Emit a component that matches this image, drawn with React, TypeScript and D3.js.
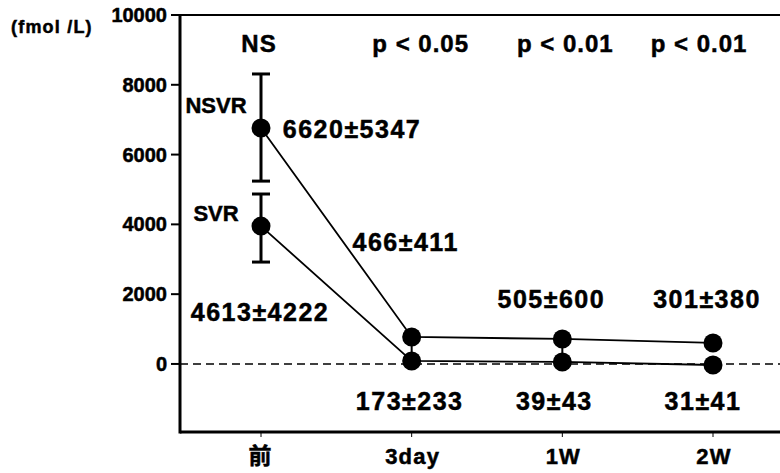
import React from 'react'
import * as d3 from 'd3'

// time points
const categories = ['前', '3day', '1W', '2W']

// NSVR group (upper line), fmol/L
const nsvrMean = [6760, 774, 716, 602]
const nsvrLow = [5240, 100, 60, null]
const nsvrHigh = [8310, null, null, null]
const nsvrLabels = ['6620±5347', '466±411', '505±600', '301±380']

// SVR group (lower line)
const svrMean = [3950, 86, 57, -30]
const svrLow = [2920, null, null, null]
const svrHigh = [4870, null, null, null]
const svrLabels = ['4613±4222', '173±233', '39±43', '31±41']

const pLabels = ['NS', 'p < 0.05', 'p < 0.01', 'p < 0.01']
const yTicks = [0, 2000, 4000, 6000, 8000, 10000]

const W = 780
const H = 473
const FONT = '"Liberation Sans", Arial, Helvetica, sans-serif'

// label offsets relative to the point they annotate
const nsvrLabelPos = [{ dx: 91, y: 138 }, { dx: -6, y: 251 }, { dx: -11, y: 308 }, { dx: -6, y: 308 }]
const svrLabelPos = [{ dx: -1, y: 321 }, { dx: -2, y: 410 }, { dx: -8, y: 410 }, { dx: -10, y: 410 }]
const pLabelDx = [-2, 9, 3, -14]

// thickens glyphs a little, like the scanned original
const heavy = { stroke: '#000', strokeWidth: 0.5 }

export default function App () {
  const x = d3.scaleLinear().domain([0, categories.length - 1]).range([261, 713])
  const y = d3.scaleLinear().domain([-1950, 10000]).range([432, 15])
  const left = 180
  const right = W

  const line = d3.line<number>()
    .x((d, i) => x(i))
    .y((d) => y(d))

  const errorBars = (mean: number[], low: (number | null)[], high: (number | null)[], key: string) =>
    mean.map((m, i) => {
      if (low[i] == null && high[i] == null) return null
      const lo = low[i] != null ? (low[i] as number) : m
      const hi = high[i] != null ? (high[i] as number) : m
      const capped = low[i] != null && high[i] != null
      return (
        <g key={key + i}>
          <line x1={x(i)} x2={x(i)} y1={y(lo)} y2={y(hi)} stroke='#000' strokeWidth={capped ? 3 : 2} />
          {capped && <line x1={x(i) - 9} x2={x(i) + 9} y1={y(lo)} y2={y(lo)} stroke='#000' strokeWidth={3} />}
          {capped && <line x1={x(i) - 9} x2={x(i) + 9} y1={y(hi)} y2={y(hi)} stroke='#000' strokeWidth={3} />}
        </g>
      )
    })

  return (
    <svg width={W} height={H} style={{ position: 'absolute', left: 0, top: 0, background: '#fff' }}
      fontFamily={FONT} fontWeight='bold'>
      {/* frame */}
      <line x1={left} x2={right} y1={y(10000)} y2={y(10000)} stroke='#000' strokeWidth={2} />
      <line x1={left} x2={right} y1={y(-1950)} y2={y(-1950)} stroke='#000' strokeWidth={3} />
      <line x1={left} x2={left} y1={y(10000) - 1} y2={y(-1950) + 1.5} stroke='#000' strokeWidth={3} />

      {/* zero reference */}
      <line x1={left} x2={right} y1={y(0)} y2={y(0)} stroke='#000' strokeWidth={1.5} strokeDasharray='8,5' />

      {/* y axis */}
      {yTicks.map((t) => (
        <g key={'yt' + t}>
          <line x1={left - 9} x2={left} y1={y(t)} y2={y(t)} stroke='#000' strokeWidth={2} />
          <text x={left - 13} y={y(t) + 7} textAnchor='end' fontSize={20} {...heavy}>{t}</text>
        </g>
      ))}
      <text x={11} y={33} fontSize={18} letterSpacing={1.2} {...heavy}>(fmol /L)</text>

      {/* x axis */}
      {categories.map((c, i) => (
        <g key={'xt' + i}>
          <line x1={x(i)} x2={x(i)} y1={y(-1950)} y2={y(-1950) + 5} stroke='#000' strokeWidth={1} />
          <text x={x(i) - (i === 0 ? 1 : -1)} y={464} textAnchor='middle'
            fontSize={i === 0 ? 23 : 22} letterSpacing={i === 0 ? 0 : 1.2} {...heavy}
            fontFamily={i === 0 ? '"Noto Sans CJK JP", sans-serif' : FONT}>{c}</text>
        </g>
      ))}

      {/* series */}
      <path d={line(nsvrMean) || ''} fill='none' stroke='#000' strokeWidth={1.8} />
      <path d={line(svrMean) || ''} fill='none' stroke='#000' strokeWidth={1.8} />
      {errorBars(nsvrMean, nsvrLow, nsvrHigh, 'en')}
      {errorBars(svrMean, svrLow, svrHigh, 'es')}
      {nsvrMean.map((v, i) => <circle key={'pn' + i} cx={x(i)} cy={y(v)} r={9.5} fill='#000' />)}
      {svrMean.map((v, i) => <circle key={'ps' + i} cx={x(i)} cy={y(v)} r={9.5} fill='#000' />)}

      {/* group names */}
      <text x={216} y={113} textAnchor='middle' fontSize={22} {...heavy}>NSVR</text>
      <text x={216} y={221} textAnchor='middle' fontSize={22} {...heavy}>SVR</text>

      {/* significance */}
      {pLabels.map((p, i) => (
        <text key={'p' + i} x={x(i) + pLabelDx[i]} y={52} textAnchor='middle' fontSize={24}
          letterSpacing={1} {...heavy}>{p}</text>
      ))}

      {/* mean ± sd labels */}
      {nsvrLabels.map((s, i) => (
        <text key={'ln' + i} x={x(i) + nsvrLabelPos[i].dx} y={nsvrLabelPos[i].y} textAnchor='middle'
          fontSize={25} letterSpacing={1.5} {...heavy}>{s}</text>
      ))}
      {svrLabels.map((s, i) => (
        <text key={'ls' + i} x={x(i) + svrLabelPos[i].dx} y={svrLabelPos[i].y} textAnchor='middle'
          fontSize={25} letterSpacing={1.5} {...heavy}>{s}</text>
      ))}
    </svg>
  )
}
